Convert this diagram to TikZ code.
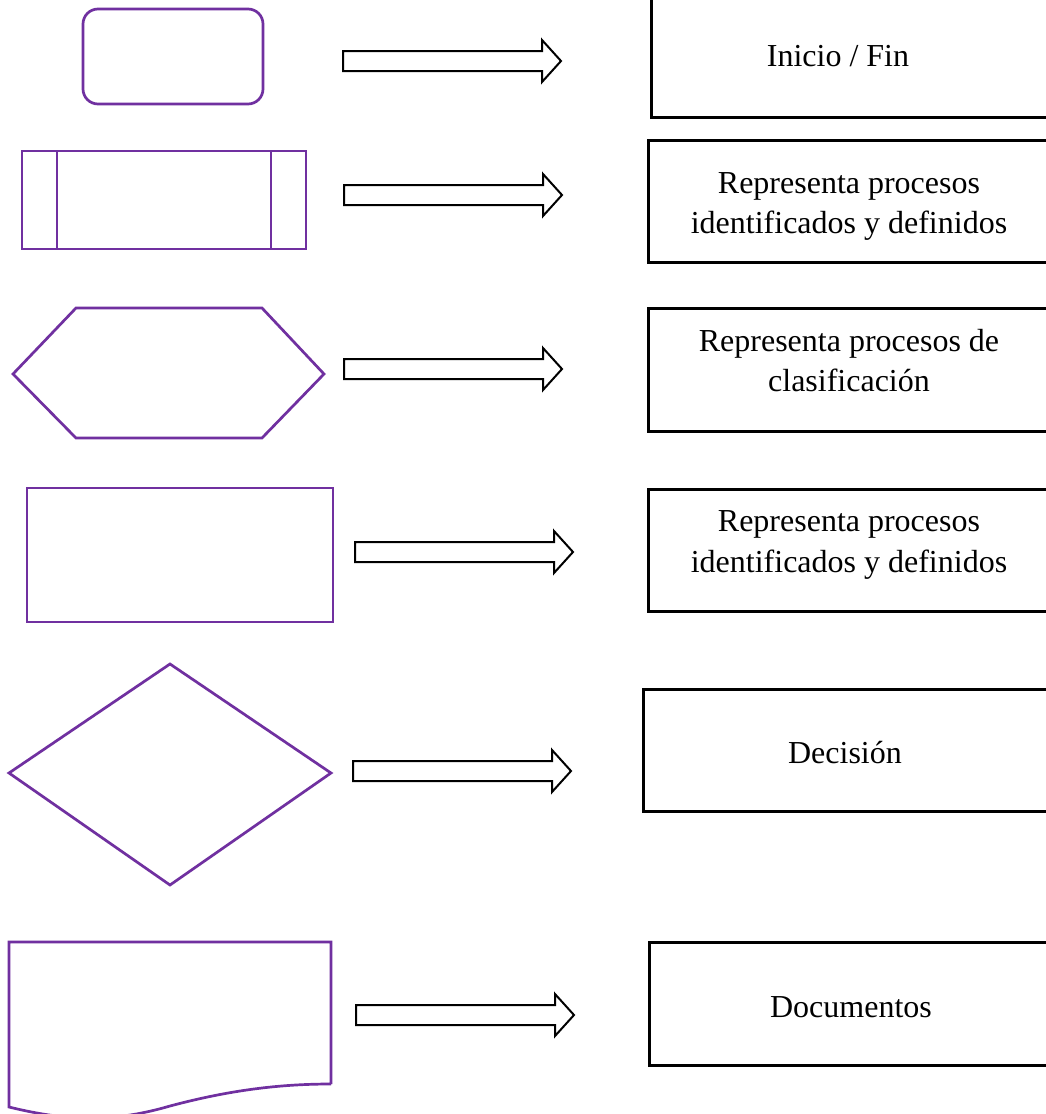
\documentclass[tikz,border=0pt]{standalone}
\usepackage{fontspec}
\setmainfont{Liberation Serif}
\begin{document}
\begin{tikzpicture}[x=1pt,y=-1pt,
  purp/.style={draw=shapepurple,line width=2.7pt,line join=miter},
  rbox/.style={draw=black,line width=2.5pt},
  arrowline/.style={draw=black,line width=2pt,fill=white,line join=miter},
  lbl/.style={font=\fontsize{32}{40.5}\selectfont,align=center,inner sep=0pt,anchor=base},
  blockarrow/.pic={\draw[arrowline] (0,-10) -- (199,-10) -- (199,-21) -- (218,0) -- (199,21) -- (199,10) -- (0,10) -- cycle;}
]
\definecolor{shapepurple}{HTML}{7030A0}
\useasboundingbox (0,0) rectangle (1046,1114);
\clip (0,0) rectangle (1046,1114);
\fill[white] (0,0) rectangle (1046,1114);

% left shapes
\draw[purp,rounded corners=15pt] (83,9) rectangle (263,104);
\draw[purp] (22,151) rectangle (306,249);
\draw[purp] (57,151) -- (57,249);
\draw[purp] (271,151) -- (271,249);
\draw[purp] (13,374) -- (76,308) -- (262,308) -- (324,374) -- (262,438) -- (76,438) -- cycle;
\draw[purp] (27,488) rectangle (333,622);
\draw[purp] (9,773) -- (170,664) -- (331,773) -- (170,885) -- cycle;
\draw[purp] (331,1084) -- (331,942) -- (9,942) -- (9,1107)
  .. controls (70,1122) and (115,1122) .. (170,1106)
  .. controls (230,1090) and (280,1084) .. (331,1084);

% block arrows
\pic at (343,61) {blockarrow};
\pic at (344,195) {blockarrow};
\pic at (344,369) {blockarrow};
\pic at (355,552) {blockarrow};
\pic at (353,771) {blockarrow};
\pic at (356,1015) {blockarrow};

% right boxes
\node[rbox,anchor=north west,minimum width=420pt,minimum height=123pt,inner sep=0pt] (b1) at (650,-7) {};
\node[rbox,anchor=north west,minimum width=420pt,minimum height=122pt,inner sep=0pt] (b2) at (647,139) {};
\node[rbox,anchor=north west,minimum width=420pt,minimum height=123pt,inner sep=0pt] (b3) at (647,307) {};
\node[rbox,anchor=north west,minimum width=420pt,minimum height=122pt,inner sep=0pt] (b4) at (647,488) {};
\node[rbox,anchor=north west,minimum width=420pt,minimum height=122pt,inner sep=0pt] (b5) at (642,688) {};
\node[rbox,anchor=north west,minimum width=420pt,minimum height=123pt,inner sep=0pt] (b6) at (648,941) {};

\node[lbl] (t1) at (838,66.5) {Inicio / Fin};
\node[lbl] (t2) at (849,233.5) {Representa procesos\\identificados y definidos};
\node[lbl] (t3) at (849,391.5) {Representa procesos de\\clasificación};
\node[lbl] (t4) at (849,572) {Representa procesos\\identificados y definidos};
\node[lbl] (t5) at (845,763.5) {Decisión};
\node[lbl] (t6) at (851,1017.5) {Documentos};
\end{tikzpicture}
\end{document}
